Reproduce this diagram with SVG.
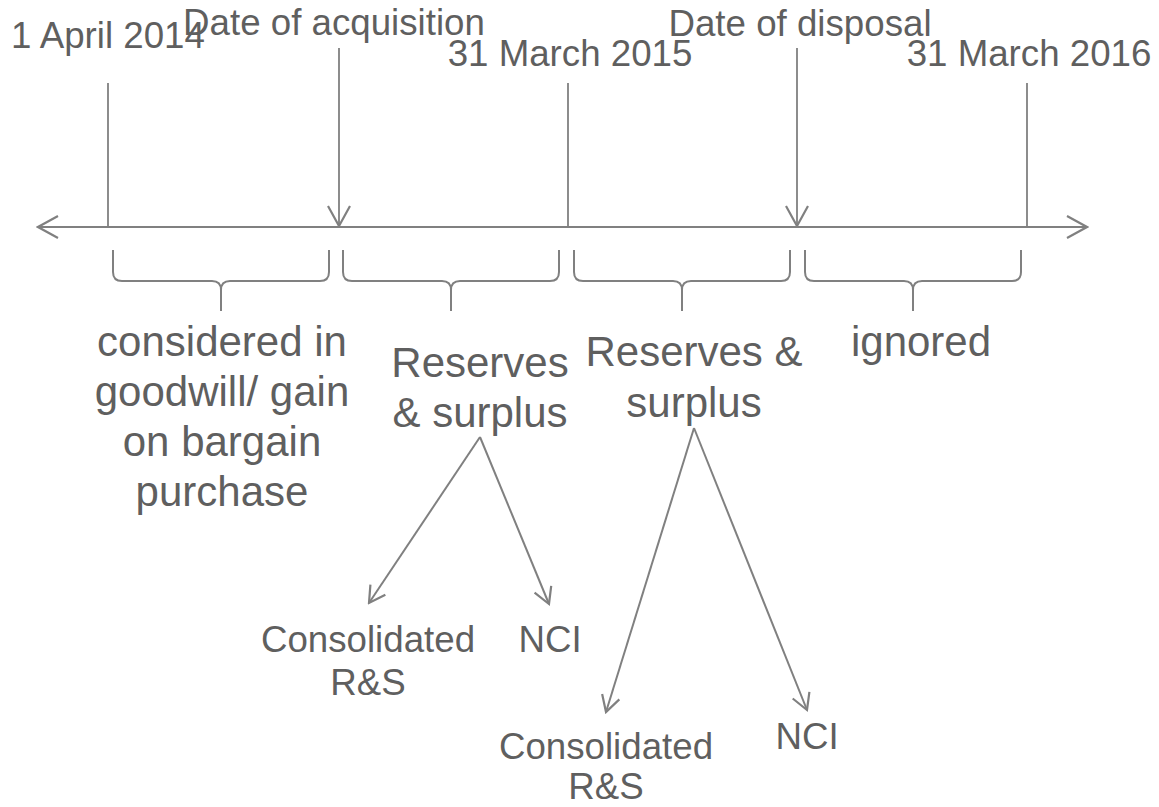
<svg xmlns="http://www.w3.org/2000/svg" xmlns:xlink="http://www.w3.org/1999/xlink" width="1159" height="807" viewBox="0 0 1159 807">
<style>
text{font-family:"Liberation Sans",Arial,sans-serif;fill:#5f5f5f;text-anchor:middle}
.t{font-size:36.7px}
.m{font-size:42px}
.b{font-size:36.7px}
.ln{stroke:#808080;stroke-width:2;fill:none}
.tk{stroke:#808080;stroke-width:1.8;fill:none}
.br{stroke:#808080;stroke-width:2;fill:none}
</style>
<defs>
<marker id="ah" viewBox="0 0 24 26" refX="22" refY="13" markerWidth="24" markerHeight="26" markerUnits="userSpaceOnUse" orient="auto">
<path d="M2,2 L22,13 L2,24" fill="none" stroke="#808080" stroke-width="2.2"/>
</marker>
<marker id="as" viewBox="0 0 20 22" refX="18" refY="11" markerWidth="20" markerHeight="22" markerUnits="userSpaceOnUse" orient="auto">
<path d="M2,2 L18,11 L2,20" fill="none" stroke="#808080" stroke-width="2.2"/>
</marker>
<path id="brace" d="M0,0 L0,22 Q0,31 9,31 L99,31 Q108,31 108,40 L108,61 M216,0 L216,22 Q216,31 207,31 L117,31 Q108,31 108,40"/>
</defs>

<g id="connectors">
<line class="ln" x1="563" y1="227" x2="38" y2="227" marker-end="url(#ah)"/>
<line class="ln" x1="563" y1="227" x2="1087" y2="227" marker-end="url(#ah)"/>
<line class="tk" x1="108" y1="83" x2="108" y2="227"/>
<line class="tk" x1="339" y1="48" x2="339" y2="226" marker-end="url(#ah)"/>
<line class="tk" x1="568" y1="83" x2="568" y2="227"/>
<line class="tk" x1="797" y1="48" x2="797" y2="226" marker-end="url(#ah)"/>
<line class="tk" x1="1027" y1="83" x2="1027" y2="227"/>
<use href="#brace" xlink:href="#brace" class="br" transform="translate(113,250)"/>
<use href="#brace" xlink:href="#brace" class="br" transform="translate(343,250)"/>
<use href="#brace" xlink:href="#brace" class="br" transform="translate(574,250)"/>
<use href="#brace" xlink:href="#brace" class="br" transform="translate(805,250)"/>
<line class="ln" x1="480" y1="437" x2="369" y2="603" marker-end="url(#as)"/>
<line class="ln" x1="480" y1="437" x2="549" y2="604" marker-end="url(#as)"/>
<line class="ln" x1="694" y1="428" x2="606" y2="712" marker-end="url(#as)"/>
<line class="ln" x1="694" y1="428" x2="807" y2="710" marker-end="url(#as)"/>
</g>

<g id="label-apr2014"><text class="t" x="108" y="48">1 April 2014</text></g>
<g id="label-acquisition"><text class="t" x="334" y="35">Date of acquisition</text></g>
<g id="label-mar2015"><text class="t" x="570" y="66">31 March 2015</text></g>
<g id="label-disposal"><text class="t" x="800" y="36">Date of disposal</text></g>
<g id="label-mar2016"><text class="t" x="1029" y="66">31 March 2016</text></g>

<g id="node-goodwill">
<text class="m" x="222" y="356">considered in</text>
<text class="m" x="222" y="406">goodwill/ gain</text>
<text class="m" x="222" y="456">on bargain</text>
<text class="m" x="222" y="506">purchase</text>
</g>
<g id="node-rs1">
<text class="m" x="480" y="377">Reserves</text>
<text class="m" x="480" y="427">&amp; surplus</text>
</g>
<g id="node-rs2">
<text class="m" x="694" y="366">Reserves &amp;</text>
<text class="m" x="694" y="417">surplus</text>
</g>
<g id="node-ignored"><text class="m" x="921" y="356">ignored</text></g>

<g id="node-cons1">
<text class="b" x="368" y="652">Consolidated</text>
<text class="b" x="368" y="695">R&amp;S</text>
</g>
<g id="node-nci1"><text class="b" x="550" y="652">NCI</text></g>
<g id="node-cons2">
<text class="b" x="606" y="759">Consolidated</text>
<text class="b" x="606" y="799">R&amp;S</text>
</g>
<g id="node-nci2"><text class="b" x="807" y="749">NCI</text></g>
</svg>
